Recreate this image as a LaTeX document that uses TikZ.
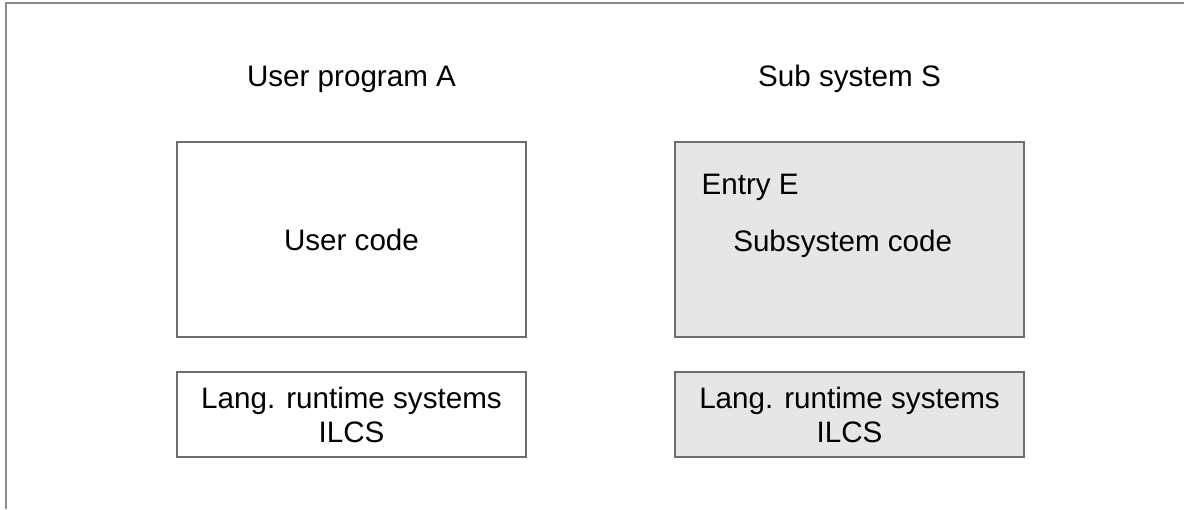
\documentclass[tikz,border=0pt]{standalone}
\usepackage{fontspec}
\setmainfont{Liberation Sans}
\definecolor{framegray}{HTML}{8A8A8A}
\definecolor{boxgray}{HTML}{6E6E6E}
\definecolor{fillgray}{HTML}{E6E6E6}
\begin{document}
\begin{tikzpicture}[x=1pt,y=-1pt,
  box/.style={draw=boxgray, line width=1.3pt, rectangle, inner sep=0pt,
    minimum width=349pt},
  bigbox/.style={box, minimum height=195pt},
  smallbox/.style={box, minimum height=85pt},
  shaded/.style={fill=fillgray},
  lbl/.style={inner sep=0pt, font=\fontsize{29.6}{34.4}\selectfont, anchor=base},
  frameline/.style={draw=framegray, line width=1.6pt}]
\useasboundingbox (0,0) rectangle (1184,509);
% frame
\coordinate (ftl) at (6,3);
\coordinate (ftr) at (1184,3);
\coordinate (fbl) at (6,509);
\draw[frameline] (ftr) -- (ftl) -- (fbl);
% boxes
\node[bigbox] (ucode) at (351.5,239.5) {};
\node[bigbox, shaded] (scode) at (849.5,239.5) {};
\node[smallbox] (lrtA) at (351.5,414.5) {};
\node[smallbox, shaded] (lrtS) at (849.5,414.5) {};
% titles
\node[lbl] (tA) at (351.5,86) {User program A};
\node[lbl] (tS) at (849.5,86) {Sub system S};
% box texts
\node[lbl] (tuc) at (351.5,250.5) {User code};
\node[lbl, anchor=base west] (tentry) at (701.5,194) {Entry E};
\node[lbl] (tsc) at (842.7,251.5) {Subsystem code};
\node[lbl] (tlA1) at (351.5,408.3) {Lang. runtime systems};
\node[lbl] (tlA2) at (351.5,442.7) {ILCS};
\node[lbl] (tlS1) at (849.5,408.3) {Lang. runtime systems};
\node[lbl] (tlS2) at (849.5,442.7) {ILCS};
\end{tikzpicture}
\end{document}
